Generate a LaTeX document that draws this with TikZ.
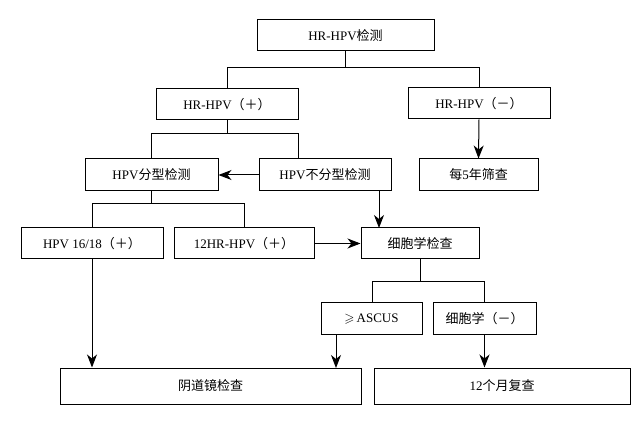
\documentclass[tikz,border=0pt]{standalone}
\usepackage{amssymb}
\usepackage{fontspec}
\setmainfont{Liberation Serif}
\newfontfamily\cjk{Noto Sans CJK SC}
\usetikzlibrary{arrows.meta}
\begin{document}
\begin{tikzpicture}[x=1pt,y=-1pt,
  bx/.style={draw,line width=1pt,inner sep=0pt,font=\fontsize{13}{15}\selectfont},
  ln/.style={line width=1pt},
  ar/.style={line width=1pt,-{Stealth[length=13pt,width=10pt,inset=4pt]}}]
\useasboundingbox (0,0) rectangle (640,430);
\newcommand\B[6]{\node[bx,minimum width=#4-#2,minimum height=#5-#3] (#1) at ({(#2+#4)/2},{(#3+#5)/2}) {#6};}
\B{top}{257}{20}{434}{51}{HR-HPV\cjk 检测}
\B{pos}{156}{89}{298}{120}{HR-HPV{\cjk（＋）}}
\B{neg}{408}{88}{550}{119}{HR-HPV{\cjk（－）}}
\B{typ}{85}{159}{218}{191}{HPV\cjk 分型检测}
\B{ntyp}{259}{159}{391}{191}{HPV\cjk 不分型检测}
\B{five}{419}{159}{538}{191}{\cjk 每\rmfamily 5\cjk 年筛查}
\B{hpv}{21}{228}{163}{259}{HPV 16/18{\cjk（＋）}}
\B{hr}{174}{228}{314}{259}{12HR-HPV{\cjk（＋）}}
\B{cyt}{361}{228}{479}{259}{\cjk 细胞学检查}
\B{asc}{321}{303}{422}{335}{$\geqslant$\,ASCUS}
\B{cneg}{433}{303}{536}{335}{\cjk 细胞学（－）}
\B{col}{60}{368}{361}{404}{\cjk 阴道镜检查}
\B{rep}{374}{368}{630}{404}{12\cjk 个月复查}
\draw[ln] (top.south) -- ++(0,16) -| (pos.north);
\draw[ln] (top.south) -- ++(0,16) -| (neg.north);
\draw[ar] (neg.south) -- (five.north);
\draw[ln] (pos.south) -- ++(0,13) -| (typ.north);
\draw[ln] (pos.south) ++(0,13) -| (298,159);
\draw[ar] (ntyp.west) -- (typ.east);
\draw[ar] (379,191) -- (379,228);
\draw[ln] (typ.south) -- ++(0,12) -| (hpv.north);
\draw[ln] (typ.south) ++(0,12) -| (244,228);
\draw[ar] (hr.east) -- (cyt.west);
\draw[ln] (cyt.south) -- ++(0,22) -| (372,303);
\draw[ln] (cyt.south) ++(0,22) -| (cneg.north);
\draw[ar] (hpv.south) -- (hpv.south|-col.north);
\draw[ar] (336,335) -- (336,368);
\draw[ar] (cneg.south) -- (cneg.south|-rep.north);
\end{tikzpicture}
\end{document}
